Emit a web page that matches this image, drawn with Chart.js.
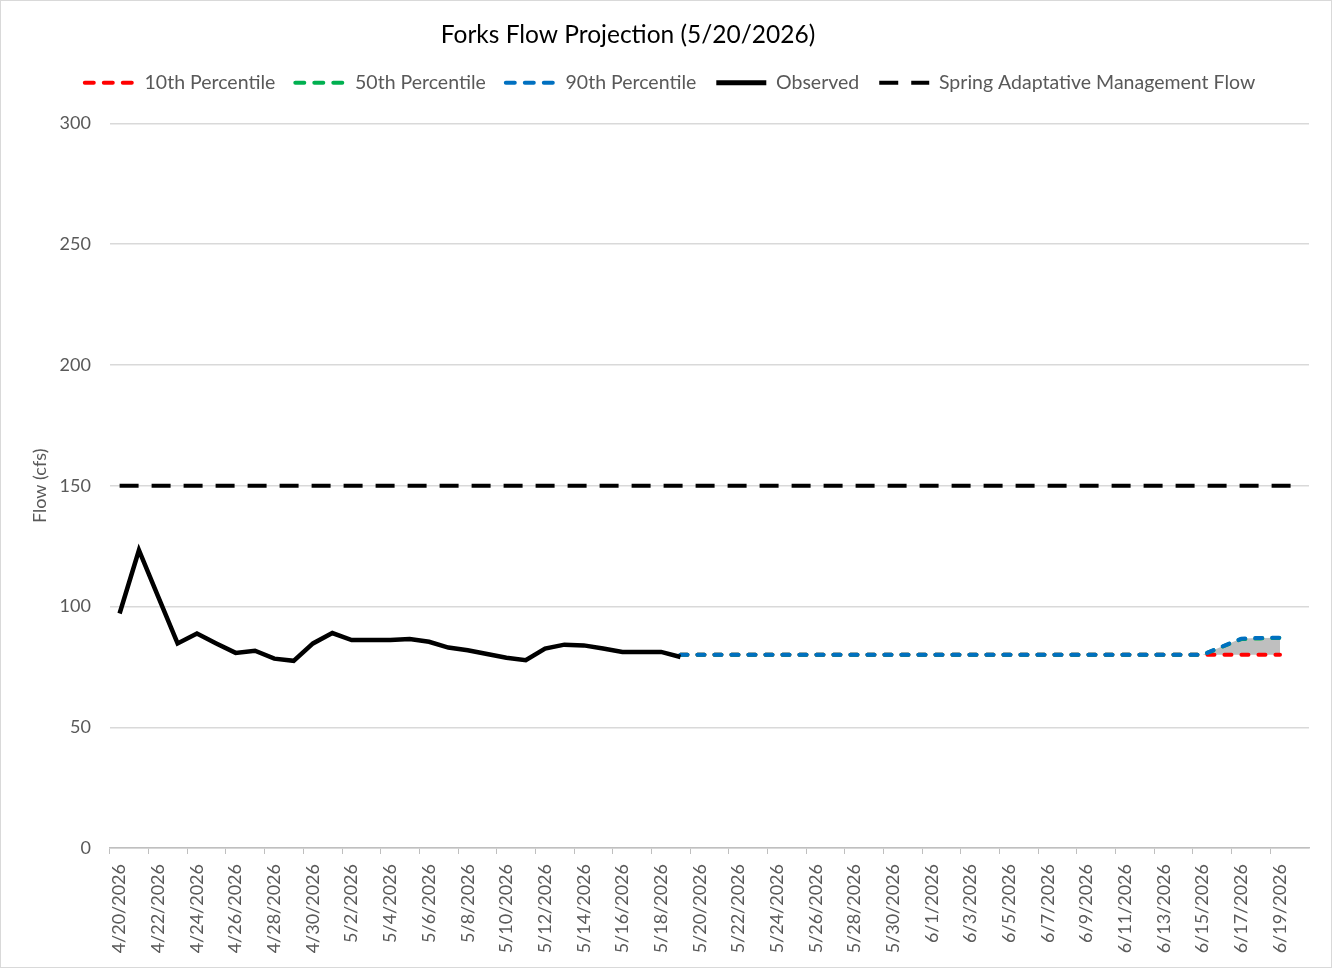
<!DOCTYPE html>
<html>
<head>
<meta charset="utf-8">
<title>Forks Flow Projection</title>
<script src="https://cdn.jsdelivr.net/npm/chart.js@4.4.1/dist/chart.umd.min.js"></script>
<style>
  html, body { margin: 0; padding: 0; background: #fff; }
  #wrap { position: relative; width: 1332px; height: 968px; }
  #wrap:after { content: ''; position: absolute; inset: 0; border: 1px solid #d9d9d9; pointer-events: none; }
</style>
</head>
<body>
<div id="wrap"><canvas id="flowChart" width="1332" height="968"></canvas></div>
<script>
// dates on the x axis (one per day)
const dates = [
  '4/20/2026','4/21/2026','4/22/2026','4/23/2026','4/24/2026','4/25/2026','4/26/2026','4/27/2026','4/28/2026','4/29/2026','4/30/2026',
  '5/1/2026','5/2/2026','5/3/2026','5/4/2026','5/5/2026','5/6/2026','5/7/2026','5/8/2026','5/9/2026','5/10/2026',
  '5/11/2026','5/12/2026','5/13/2026','5/14/2026','5/15/2026','5/16/2026','5/17/2026','5/18/2026','5/19/2026','5/20/2026',
  '5/21/2026','5/22/2026','5/23/2026','5/24/2026','5/25/2026','5/26/2026','5/27/2026','5/28/2026','5/29/2026','5/30/2026','5/31/2026',
  '6/1/2026','6/2/2026','6/3/2026','6/4/2026','6/5/2026','6/6/2026','6/7/2026','6/8/2026','6/9/2026','6/10/2026',
  '6/11/2026','6/12/2026','6/13/2026','6/14/2026','6/15/2026','6/16/2026','6/17/2026','6/18/2026','6/19/2026','6/20/2026'
];

// observed flow, 4/20 - 5/19
const observed = [97.1, 123.3, 104, 84.7, 88.8, 84.7, 80.8, 81.7, 78.4, 77.5, 84.7,
  89.0, 86.1, 86.1, 86.1, 86.5, 85.4, 83.0, 81.9, 80.3, 78.8, 77.8, 82.6, 84.2, 83.9, 82.6, 81.2, 81.2, 81.2, 79.1];

// projections, 5/19 - 6/19
const p10 = [80, 80, 80, 80, 80, 80, 80, 80, 80, 80, 80, 80, 80, 80, 80, 80,
  80, 80, 80, 80, 80, 80, 80, 80, 80, 80, 80, 80, 80, 80, 80, 80];
const p50 = [80, 80, 80, 80, 80, 80, 80, 80, 80, 80, 80, 80, 80, 80, 80, 80,
  80, 80, 80, 80, 80, 80, 80, 80, 80, 80, 80, 80, 83.3, 86.5, 86.8, 87.0];
const p90 = [80, 80, 80, 80, 80, 80, 80, 80, 80, 80, 80, 80, 80, 80, 80, 80,
  80, 80, 80, 80, 80, 80, 80, 80, 80, 80, 80, 80, 83.4, 86.7, 87.0, 87.1];

// spring adaptive management flow target
const springFlow = 150;

const yTicks = [0, 50, 100, 150, 200, 250, 300];

const FONT = 'Lato, "Open Sans", sans-serif';
const GREY_TEXT = '#595959';

// projections start on the last observed day
const lead = Array(observed.length - 1).fill(null);
const proj = arr => lead.concat(arr);

// title is drawn left of centre like the original, x labels read bottom-to-top
const extras = {
  id: 'extras',
  beforeInit(chart) {
    const legend = chart.legend;
    // extra room between legend and plot
    const fit = legend.fit;
    legend.fit = function() {
      fit.call(this);
      this.height += 21;
    };
    // nudge legend to the right to sit where Excel put it
    const draw = legend.draw;
    legend.draw = function() {
      chart.ctx.save();
      chart.ctx.translate(15, 0);
      draw.call(this);
      chart.ctx.restore();
    };
  },
  afterDraw(chart) {
    const ctx = chart.ctx;
    const x = chart.scales.x;
    ctx.save();
    ctx.fillStyle = '#000';
    ctx.font = '24.5px ' + FONT;
    ctx.textAlign = 'center';
    ctx.textBaseline = 'middle';
    ctx.fillText('Forks Flow Projection (5/20/2026)', 628, 35);

    ctx.fillStyle = GREY_TEXT;
    ctx.font = '18px ' + FONT;
    ctx.textAlign = 'right';
    dates.forEach((d, i) => {
      if (i % 2) return;
      ctx.save();
      ctx.translate(x.getPixelForTick(i), x.bottom + 10);
      ctx.rotate(-Math.PI / 2);
      ctx.fillText(d, 0, 0);
      ctx.restore();
    });
    ctx.restore();
  }
};

new Chart(document.getElementById('flowChart'), {
  type: 'line',
  data: {
    labels: dates,
    datasets: [
      {label: '10th Percentile', data: proj(p10), borderColor: '#ff0000', backgroundColor: '#ff0000',
       borderWidth: 4, borderDash: [7, 10], borderCapStyle: 'round', order: 3, fill: false},
      {label: '50th Percentile', data: proj(p50), borderColor: '#00b050', backgroundColor: '#00b050',
       borderWidth: 4, borderDash: [7, 10], borderCapStyle: 'round', order: 2, fill: false},
      {label: '90th Percentile', data: proj(p90), borderColor: '#0070c0', backgroundColor: '#0070c0',
       borderWidth: 4, borderDash: [7, 10], borderCapStyle: 'round', order: 1,
       fill: {target: 0, above: '#bfbfbf', below: '#bfbfbf'}},
      {label: 'Observed', data: observed, borderColor: '#000', backgroundColor: '#000',
       borderWidth: 4.5, order: 0, fill: false},
      {label: 'Spring Adaptative Management Flow', data: dates.map(() => springFlow), borderColor: '#000',
       backgroundColor: '#000', borderWidth: 4, borderDash: [19, 13], order: 4, fill: false}
    ]
  },
  options: {
    responsive: false,
    animation: false,
    devicePixelRatio: 1,
    layout: {padding: {top: 53, left: 1, right: 23, bottom: 114}},
    elements: {point: {radius: 0}, line: {tension: 0}},
    plugins: {
      filler: {drawTime: 'beforeDatasetsDraw'},
      tooltip: {enabled: false},
      legend: {
        position: 'top',
        labels: {
          usePointStyle: true,
          pointStyle: 'line',
          pointStyleWidth: 50,
          padding: 20,
          color: GREY_TEXT,
          font: {family: FONT, size: 19.5},
          generateLabels: chart => chart.data.datasets.map((ds, i) => ({
            text: ds.label,
            datasetIndex: i,
            fillStyle: ds.borderColor,
            strokeStyle: ds.borderColor,
            fontColor: GREY_TEXT,
            lineWidth: ds.label === 'Observed' ? 5 : 4,
            lineDash: ds.borderCapStyle === 'round' ? [9, 10] : (ds.borderDash || []),
            lineCap: ds.borderCapStyle || 'butt',
            pointStyle: 'line',
            hidden: false
          }))
        }
      }
    },
    scales: {
      x: {
        offset: true,
        border: {color: '#bfbfbf', width: 1.5},
        grid: {
          offset: true,
          drawOnChartArea: false,
          tickLength: 6,
          color: c => (c.index % 2 === 0 ? '#bfbfbf' : 'rgba(0,0,0,0)')
        },
        ticks: {display: false, autoSkip: false}
      },
      y: {
        min: 0,
        max: 300,
        afterBuildTicks: s => { s.ticks = yTicks.map(v => ({value: v})); },
        border: {display: false},
        grid: {color: '#d9d9d9', drawTicks: false, lineWidth: 1.5},
        ticks: {color: GREY_TEXT, font: {family: FONT, size: 18}, padding: 19},
        title: {display: true, text: 'Flow (cfs)', color: GREY_TEXT, font: {family: FONT, size: 18},
                padding: {top: 28, bottom: -10}}
      }
    }
  },
  plugins: [extras]
});
</script>
</body>
</html>
